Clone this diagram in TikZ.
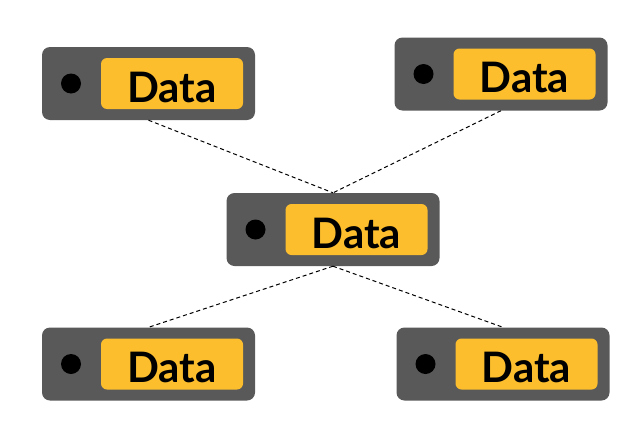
\documentclass[tikz,border=0pt]{standalone}
\usepackage{fontspec}
\setsansfont{Lato}
\usepackage{tikz}
\definecolor{tagcolor}{RGB}{89,89,89}
\definecolor{datacolor}{RGB}{252,190,45}
\usetikzlibrary{positioning}

\begin{document}
\begin{tikzpicture}[
            x=1pt, y=-1pt,
                tag/.style = {rectangle, rounded corners=8pt, fill=tagcolor,
                            minimum width=213pt, minimum height=73pt, inner sep=0pt},
                hole/.style = {circle, fill=black, minimum size=20pt, inner sep=0pt},
                datalabel/.style = {rectangle, rounded corners=6pt, fill=datacolor,
                            minimum width=142pt, minimum height=51pt, inner sep=0pt,
                            text height=37pt, text depth=0pt,
                            text centered, font=\sffamily\bfseries\fontsize{42}{42}\selectfont},
                link/.style = {draw=black, dash pattern=on 4pt off 3pt, line width=1pt},
            node distance=12pt]
            \useasboundingbox (0,0) rectangle (642,434);
            \node (TopLeft) [tag] at (148.5,83.5) {};
            \node (TopLeftHole) [hole, right=19pt of TopLeft.west] {};
            \node (TopLeftData) [datalabel, left=12pt of TopLeft.east] {Data};
            \node (TopRight) [tag] at (501,74) {};
            \node (TopRightHole) [hole, right=19pt of TopRight.west] {};
            \node (TopRightData) [datalabel, left=12pt of TopRight.east] {Data};
            \node (Center) [tag] at (333,229.5) {};
            \node (CenterHole) [hole, right=19pt of Center.west] {};
            \node (CenterData) [datalabel, left=12pt of Center.east] {Data};
            \node (BottomLeft) [tag] at (148.5,364) {};
            \node (BottomLeftHole) [hole, right=19pt of BottomLeft.west] {};
            \node (BottomLeftData) [datalabel, left=12pt of BottomLeft.east] {Data};
            \node (BottomRight) [tag] at (503,364) {};
            \node (BottomRightHole) [hole, right=19pt of BottomRight.west] {};
            \node (BottomRightData) [datalabel, left=12pt of BottomRight.east] {Data};
            \draw[link] (TopLeft.south)  -- (Center.north);
            \draw[link] (TopRight.south) -- (Center.north);
            \draw[link] (Center.south)   -- (BottomLeft.north);
            \draw[link] (Center.south)   -- (BottomRight.north);
        \end{tikzpicture}
\end{document}
